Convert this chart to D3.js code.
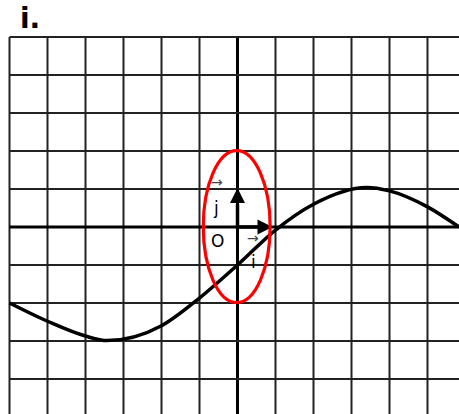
<!DOCTYPE html>
<html>
<head>
<meta charset="utf-8">
<script src="https://cdn.jsdelivr.net/npm/d3@7"></script>
<style>
  html, body { margin: 0; padding: 0; background: #fff; }
  svg { display: block; }
</style>
</head>
<body>
<div id="chart"></div>
<script>
// values (grid units)
const gridX = d3.range(-6, 7);
const gridY = d3.range(-5, 6);
const curveX = [-6, -5, -4, -3.43, -2, -1, 0, 1, 2, 3.4, 4, 5, 5.83];
const curveY = [-2.0, -2.48, -2.87, -2.99, -2.6, -1.87, -1.0, -0.08, 0.6, 1.04, 0.95, 0.53, 0.0];
const ellipseC = [0, 0.01];
const ellipseR = [0.88, 2.0];
const title = "i.";

const width = 459, height = 414;

const x = d3.scaleLinear().domain([-6, 6]).range([9.5, 465.5]);
const y = d3.scaleLinear().domain([5, -5]).range([37, 417]);

const svg = d3.select("#chart")
    .append("svg")
    .attr("width", width)
    .attr("height", height);

svg.append("text")
    .attr("x", 20)
    .attr("y", 28)
    .attr("font-family", "DejaVu Sans")
    .attr("font-weight", "bold")
    .attr("font-size", 28)
    .text(title);

const grid = svg.append("g");

grid.selectAll("line.v")
    .data(gridX)
    .enter().append("line")
    .attr("class", "v")
    .attr("x1", d => x(d)).attr("x2", d => x(d))
    .attr("y1", y(5)).attr("y2", y(-5))
    .attr("stroke", d => d === 0 ? "#000" : "#222")
    .attr("stroke-width", d => d === 0 ? 3 : 2);

grid.selectAll("line.h")
    .data(gridY)
    .enter().append("line")
    .attr("class", "h")
    .attr("y1", d => y(d)).attr("y2", d => y(d))
    .attr("x1", x(-6)).attr("x2", x(6))
    .attr("stroke", d => d === 0 ? "#000" : "#222")
    .attr("stroke-width", d => d === 0 ? 3 : 2);

// unit vectors
const vec = svg.append("g");
vec.append("line")
    .attr("x1", x(0)).attr("y1", y(0))
    .attr("x2", x(0)).attr("y2", y(0.6))
    .attr("stroke", "#000").attr("stroke-width", 3.5);
vec.append("path")
    .attr("d", `M${x(0)},${y(1) - 1} L${x(0) - 7.5},${y(1) + 14} L${x(0) + 7.5},${y(1) + 14} Z`)
    .attr("fill", "#000");
vec.append("line")
    .attr("x1", x(0)).attr("y1", y(0))
    .attr("x2", x(0.6)).attr("y2", y(0))
    .attr("stroke", "#000").attr("stroke-width", 3.5);
vec.append("path")
    .attr("d", `M${x(1) - 3},${y(0)} L${x(1) - 18},${y(0) - 7.5} L${x(1) - 18},${y(0) + 7.5} Z`)
    .attr("fill", "#000");

const labels = svg.append("g")
    .attr("font-family", "DejaVu Sans")
    .attr("font-size", 17);
labels.append("text").attr("x", 211).attr("y", 247).text("O");
labels.append("text").attr("x", 214).attr("y", 214).text("j");
labels.append("text").attr("x", 251).attr("y", 268).text("i");
labels.append("text").attr("x", 211).attr("y", 187)
    .attr("font-size", 14).attr("fill", "#444").text("→");
labels.append("text").attr("x", 247).attr("y", 243)
    .attr("font-size", 14).attr("fill", "#444").text("→");

// curve
const line = d3.line()
    .x((d, i) => x(curveX[i]))
    .y(d => y(d))
    .curve(d3.curveMonotoneX);

svg.append("path")
    .datum(curveY)
    .attr("d", line)
    .attr("fill", "none")
    .attr("stroke", "#000")
    .attr("stroke-width", 3.5);

// red ellipse
svg.append("ellipse")
    .attr("cx", x(ellipseC[0]) - 0.8)
    .attr("cy", y(ellipseC[1]))
    .attr("rx", x(ellipseR[0]) - x(0))
    .attr("ry", y(0) - y(ellipseR[1]))
    .attr("fill", "none")
    .attr("stroke", "#f00")
    .attr("stroke-width", 3.2);
</script>
</body>
</html>
